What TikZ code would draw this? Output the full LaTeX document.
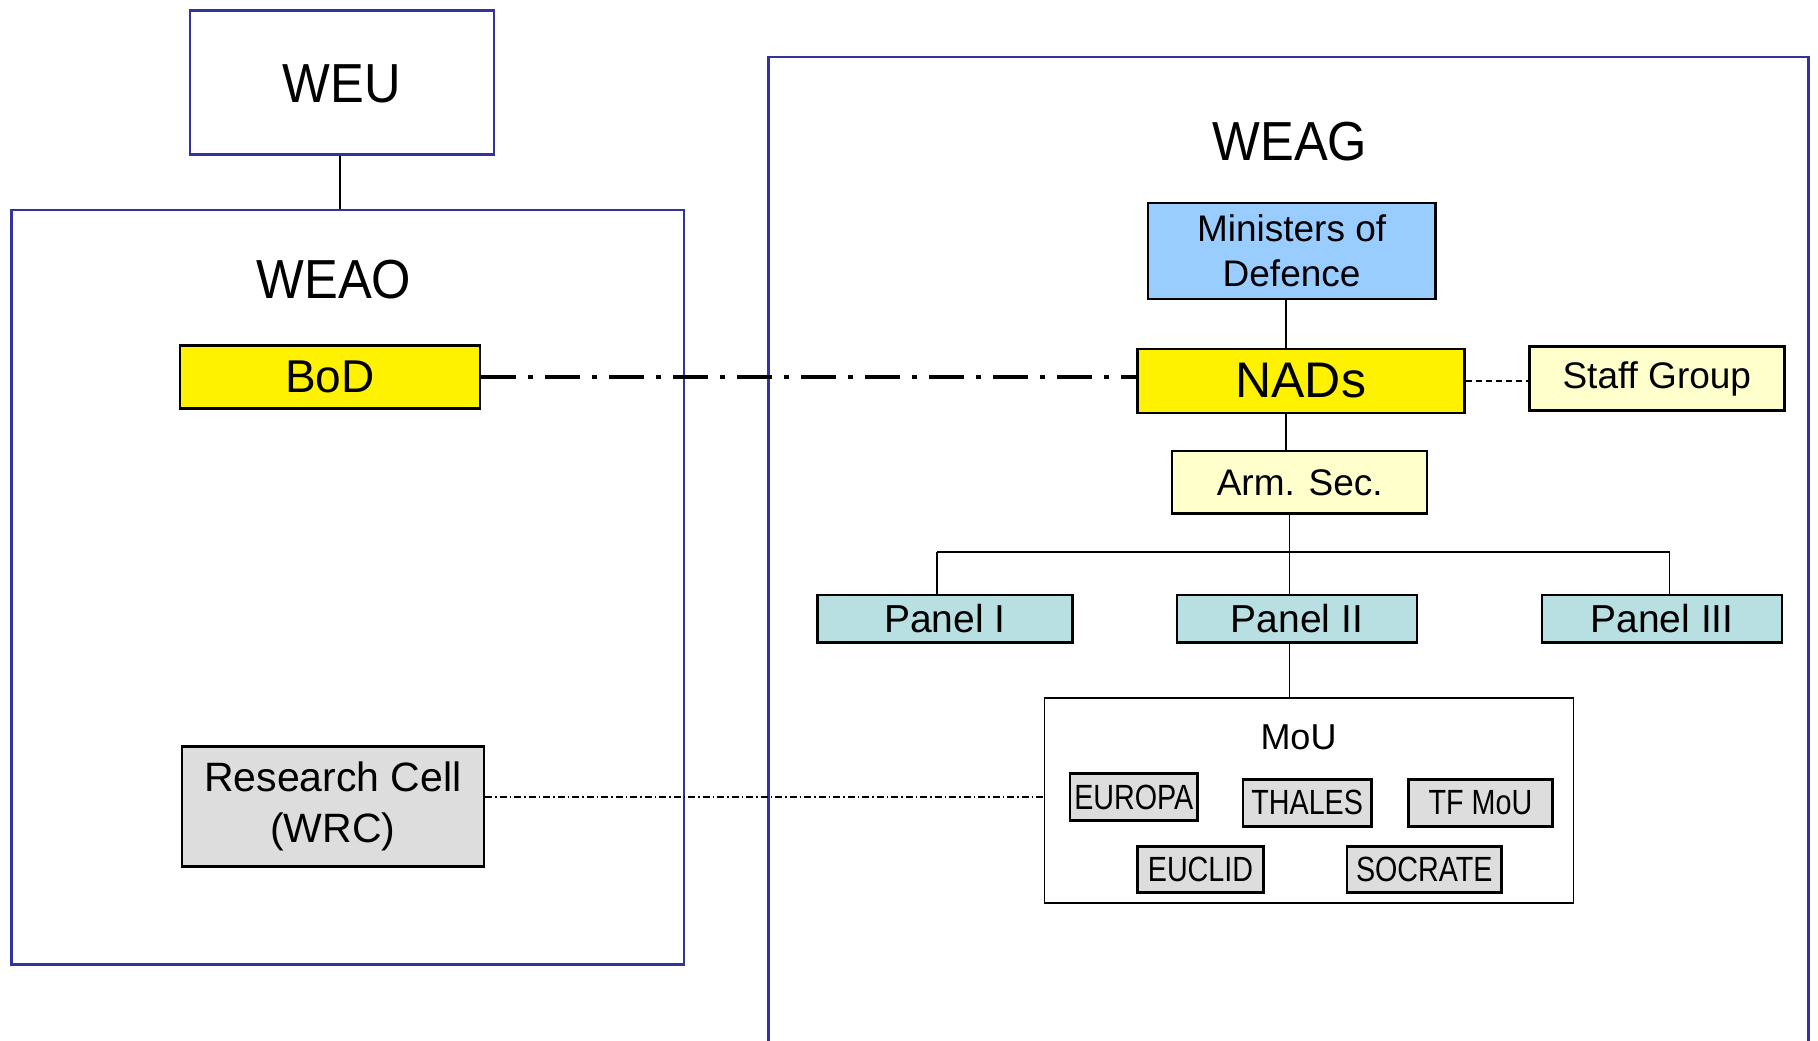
\documentclass[tikz,border=0pt]{standalone}
\usepackage{fontspec}
\setmainfont{Liberation Sans}
\usepackage{graphicx}
\usetikzlibrary{calc}
\definecolor{frameblue}{RGB}{51,51,160}
\definecolor{minblue}{RGB}{153,204,255}
\definecolor{lightyel}{RGB}{255,255,204}
\definecolor{panelcol}{RGB}{184,224,226}
\definecolor{boxgray}{RGB}{221,221,221}
\newcommand{\narrowtxt}[1]{\scalebox{0.82}[1]{#1}}
\tikzset{
  box/.style={draw=black, line width=2.5pt, rectangle, inner sep=0pt, align=center},
  container/.style={draw=frameblue, line width=2.5pt},
  conn/.style={draw=black, line width=1.5pt},
  ttl/.style={inner sep=0pt, font=\fontsize{55}{60}\selectfont},
  smallbox/.style={box, fill=boxgray, font=\fontsize{35}{38}\selectfont, minimum height=47pt},
  panelbox/.style={box, fill=panelcol, font=\fontsize{39}{44}\selectfont, minimum height=47.5pt},
}
\begin{document}
\begin{tikzpicture}[x=1pt, y=-1pt]
\useasboundingbox (0,0) rectangle (1818,1041);
\fill[white] (0,0) rectangle (1818,1041);

% containers
\node[container, rectangle, inner sep=0pt, minimum width=304pt, minimum height=144pt] (WEU) at (342,82.3) {};
\node[ttl] (WEUt) at (342,84) {\scalebox{0.92}[1]{WEU}};
\node[container, rectangle, inner sep=0pt, minimum width=672.4pt, minimum height=754.6pt] (WEAO) at (347.8,587.3) {};
\node[ttl] (WEAOt) at (334,280) {\scalebox{0.92}[1]{WEAO}};
\coordinate (gTL) at (768.7,56.8);
\coordinate (gTR) at (1808.7,56.8);
\draw[container] (768.7,1045) -- (gTL) -- (gTR) -- (1808.7,1045);
\node[ttl] (WEAGt) at (1290,142) {\scalebox{0.92}[1]{WEAG}};

\draw[conn] ($(WEU.south)+(-2,0)$) -- ($(WEU.south |- WEAO.north)+(-2,0)$);

% WEAG boxes
\node[box, fill=minblue, minimum width=287.5pt, minimum height=96pt,
      font=\fontsize{37}{45}\selectfont] (Min) at (1291.6,251) {Ministers of\\Defence};
\node[box, fill=yellow, minimum width=327pt, minimum height=63.7pt,
      font=\fontsize{50}{56}\selectfont] (NADs) at (1300.8,380.9) {NADs};
\node[box, fill=lightyel, minimum width=255pt, minimum height=63.7pt,
      font=\fontsize{37}{42}\selectfont] (Staff) at (1656.8,378.5) {Staff Group};
\node[box, fill=lightyel, minimum width=255pt, minimum height=62.6pt,
      font=\fontsize{37}{42}\selectfont] (Arm) at (1299.7,482.3) {Arm. Sec.};

\node[panelbox, minimum width=255pt] (P1) at (944.9,618.6) {Panel I};
\node[panelbox, minimum width=240pt] (P2) at (1296.8,618.6) {Panel II};
\node[panelbox, minimum width=240pt] (P3) at (1662,618.6) {Panel III};

\node[draw=black, line width=1.5pt, rectangle, fill=white, inner sep=0pt,
      minimum width=528.7pt, minimum height=205.2pt] (MoU) at (1309,800.6) {};
\node[inner sep=0pt, font=\fontsize{36}{40}\selectfont] (MoUt) at (1298.5,737) {MoU};
\node[smallbox, minimum width=127.6pt] (EUR) at (1133.8,797) {\narrowtxt{EUROPA}};
\node[smallbox, minimum width=128.7pt] (THA) at (1307.2,802.8) {\narrowtxt{THALES}};
\node[smallbox, minimum width=143.8pt] (TFM) at (1480.5,802.8) {\narrowtxt{TF MoU}};
\node[smallbox, minimum width=126.4pt, minimum height=46.4pt] (EUC) at (1200.5,869.5) {\narrowtxt{EUCLID}};
\node[smallbox, minimum width=154.2pt, minimum height=46.4pt] (SOC) at (1424.3,869.5) {\narrowtxt{SOCRATE}};

% WEAO boxes
\node[box, fill=yellow, minimum width=300.3pt, minimum height=62.6pt,
      font=\fontsize{46}{50}\selectfont] (BoD) at (329.9,377) {BoD};
\node[box, fill=boxgray, minimum width=302pt, minimum height=120pt,
      font=\fontsize{41}{51}\selectfont] (RC) at (332.9,806.5) {Research Cell\\(WRC)};

% spines
\coordinate (sp1) at (1286,0);
\coordinate (sp2) at (1289.3,0);
\coordinate (barL) at (936.8,551.9);
\coordinate (barR) at (1669.5,551.9);

\draw[conn] (Min.south -| sp1) -- (NADs.north -| sp1);
\draw[conn] (NADs.south -| sp1) -- (Arm.north -| sp1);
\draw[conn] (Arm.south -| sp2) -- (P2.north -| sp2);
\draw[conn] (barL) -- (barR);
\draw[conn] (barL) -- (P1.north -| barL);
\draw[conn] (barR) -- (P3.north -| barR);
\draw[conn] (P2.south -| sp2) -- (MoU.north -| sp2);

% special connectors
\draw[line width=4pt, dash pattern=on 35pt off 12pt on 5pt off 12pt] (BoD.east) -- (BoD.east -| NADs.west);
\draw[line width=1.5pt, dash pattern=on 6pt off 4pt] (NADs.east) -- (NADs.east -| Staff.west);
\draw[line width=1.2pt, dash pattern=on 7pt off 3pt on 1.5pt off 3pt] (RC.east |- EUR) -- (MoU.west |- EUR);
\end{tikzpicture}
\end{document}
